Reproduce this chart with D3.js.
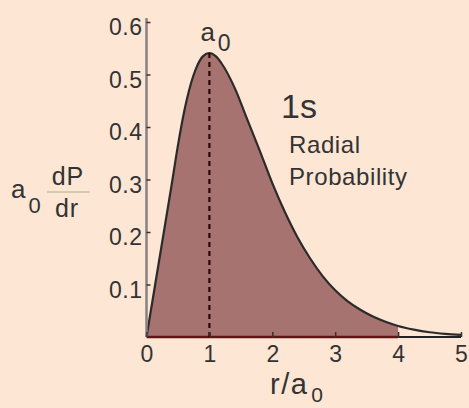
<!DOCTYPE html>
<html>
<head>
<meta charset="utf-8">
<script src="https://cdn.jsdelivr.net/npm/d3@7"></script>
<style>
  html, body { margin: 0; padding: 0; background: #fde6d4; }
  svg { display: block; }
  text { font-family: "Liberation Sans", Arial, Helvetica, sans-serif; fill: #333; }
</style>
</head>
<body>
<svg id="chart" width="469" height="408"></svg>
<script>
// Radial probability of the hydrogen 1s state, a0 dP/dr versus r/a0
const rValues = [0, 0.4, 0.5, 0.6, 0.7, 0.8, 0.9, 1.0, 1.1, 1.2, 1.4, 1.6, 1.8, 2.0,
                 2.2, 2.4, 2.6, 2.8, 3.0, 3.2, 3.4, 3.6, 3.8, 4.0, 4.25, 4.5, 4.75, 5.0];
const pValues = [0, 0.29, 0.365, 0.43, 0.48, 0.515, 0.535, 0.541, 0.535, 0.52, 0.475, 0.415, 0.355, 0.293,
                 0.238, 0.19, 0.15, 0.116, 0.089, 0.068, 0.052, 0.039, 0.029, 0.021, 0.014, 0.009, 0.006, 0.004];
const xTicks = [0, 1, 2, 3, 4, 5];
const yTicks = [0.1, 0.2, 0.3, 0.4, 0.5, 0.6];
const peakR = 1.0;
const peakP = 0.541;
const fillEnd = 4.0;

const points = rValues.map((r, i) => ({ r, p: pValues[i] }));

const svg = d3.select("#chart");
const x = d3.scaleLinear().domain([0, 5]).range([146.5, 461]);
const y = d3.scaleLinear().domain([0, 0.6]).range([337, 22]);

// shaded area under the curve
const area = d3.area()
  .x(d => x(d.r)).y0(y(0)).y1(d => y(d.p))
  .curve(d3.curveMonotoneX);
svg.append("path")
  .datum(points.filter(d => d.r <= fillEnd))
  .attr("d", area)
  .attr("fill", "#a67370");

// baseline: maroon under the shaded part, dark past it
svg.append("line")
  .attr("x1", x(0)).attr("x2", x(fillEnd)).attr("y1", y(0)).attr("y2", y(0))
  .attr("stroke", "#5e1414").attr("stroke-width", 2.5);
svg.append("line")
  .attr("x1", x(fillEnd)).attr("x2", x(5)).attr("y1", y(0)).attr("y2", y(0))
  .attr("stroke", "#222").attr("stroke-width", 2);

// curve
const line = d3.line().x(d => x(d.r)).y(d => y(d.p)).curve(d3.curveMonotoneX);
svg.append("path")
  .datum(points)
  .attr("d", line)
  .attr("fill", "none")
  .attr("stroke", "#2b2b2b")
  .attr("stroke-width", 2.2);

// dashed marker at the most probable radius
svg.append("line")
  .attr("x1", x(peakR)).attr("x2", x(peakR))
  .attr("y1", y(peakP)).attr("y2", y(0))
  .attr("stroke", "#2a0606").attr("stroke-width", 2.2)
  .attr("stroke-dasharray", "5,4");

// y axis
svg.append("line")
  .attr("x1", x(0)).attr("x2", x(0)).attr("y1", 18).attr("y2", y(0))
  .attr("stroke", "#8a7f82").attr("stroke-width", 2.5);
const yAxis = d3.axisLeft(y).tickValues(yTicks)
  .tickSizeInner(-4).tickSizeOuter(0).tickPadding(4)
  .tickFormat(d3.format(".1f"));
const gy = svg.append("g").attr("transform", `translate(${x(0)},0)`).call(yAxis);
gy.select(".domain").remove();
gy.selectAll(".tick line").attr("stroke", "#333").attr("stroke-width", 1.5);
gy.selectAll(".tick text")
  .attr("dy", "0.55em")
  .style("font-size", "23px")
  .style("letter-spacing", "0.5px")
  .attr("fill", "#2e2e2e");

// x axis
const xAxis = d3.axisBottom(x).tickValues(xTicks)
  .tickSizeInner(-5).tickSizeOuter(0).tickPadding(9)
  .tickFormat(d3.format("d"));
const gx = svg.append("g").attr("transform", `translate(0,${y(0)})`).call(xAxis);
gx.select(".domain").remove();
gx.selectAll(".tick line").attr("stroke", "#333").attr("stroke-width", 1.5);
gx.selectAll(".tick text")
  .attr("dy", "0.71em")
  .style("font-size", "23px")
  .attr("fill", "#2e2e2e");

// peak label a0
const pk = svg.append("text")
  .attr("x", x(peakR) - 9).attr("y", 41)
  .style("font-size", "26px");
pk.append("tspan").text("a");
pk.append("tspan").attr("dx", 3).attr("dy", 10).style("font-size", "23px").text("0");

// state label
svg.append("text").attr("x", 281).attr("y", 118)
  .style("font-size", "34px").attr("fill", "#1e1e1e").text("1s");
svg.append("text").attr("x", 289).attr("y", 153)
  .style("font-size", "24px").style("letter-spacing", "0.6px").attr("fill", "#3a3a3a").text("Radial");
svg.append("text").attr("x", 289).attr("y", 185)
  .style("font-size", "24px").style("letter-spacing", "0.6px").attr("fill", "#3a3a3a").text("Probability");

// y axis title: a0 dP/dr
const ya = svg.append("text").attr("x", 11).attr("y", 198).style("font-size", "26px");
ya.append("tspan").text("a");
ya.append("tspan").attr("dx", 3).attr("dy", 15).style("font-size", "22px").text("0");
svg.append("text").attr("x", 68).attr("y", 185).attr("text-anchor", "middle")
  .style("font-size", "25px").style("letter-spacing", "1px").text("dP");
svg.append("line").attr("x1", 47).attr("x2", 90).attr("y1", 192).attr("y2", 192)
  .attr("stroke", "#c2c39c").attr("stroke-width", 1.5);
svg.append("text").attr("x", 67).attr("y", 217).attr("text-anchor", "middle")
  .style("font-size", "25px").style("letter-spacing", "1px").text("dr");

// x axis title: r/a0
const xa = svg.append("text").attr("x", 270).attr("y", 394)
  .style("font-size", "29px").style("letter-spacing", "1.5px");
xa.append("tspan").text("r/a");
xa.append("tspan").attr("dx", 3).attr("dy", 8).style("font-size", "21px").text("0");
</script>
</body>
</html>
